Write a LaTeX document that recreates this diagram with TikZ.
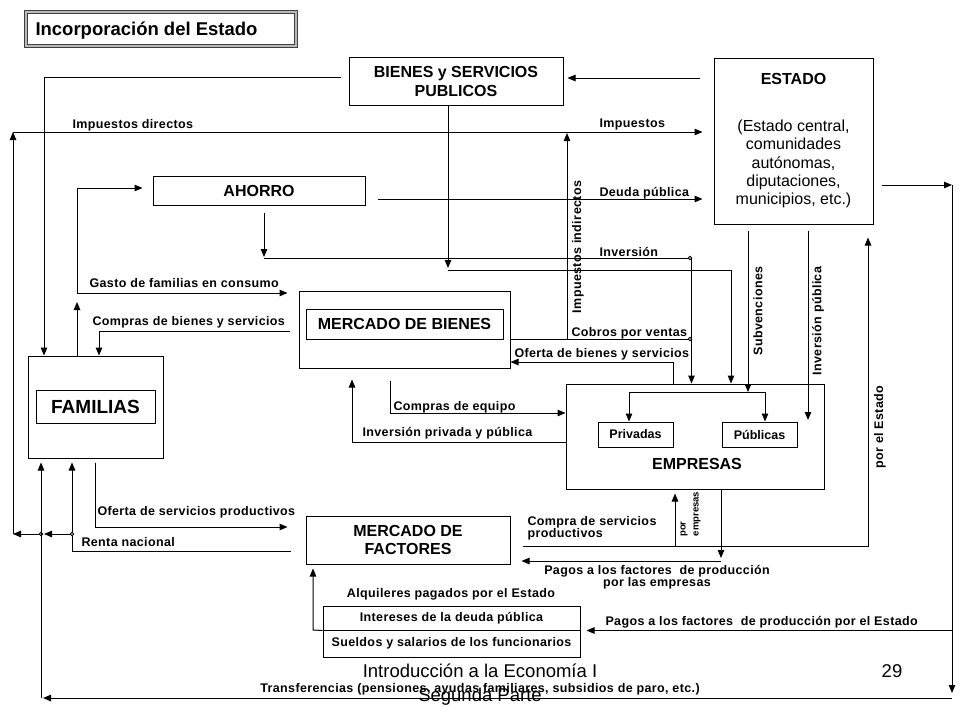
\documentclass[tikz,border=0pt]{standalone}
\usepackage{fontspec}
\setmainfont{Liberation Sans}
\newfontfamily\lblfont{Liberation Sans}[LetterSpace=3]
\usetikzlibrary{arrows.meta}
\begin{document}
\begin{tikzpicture}[x=1pt,y=-1pt,line width=1pt,
  arr/.style={-{Triangle[length=8pt,width=6.5pt]}},
  box/.style={draw,line width=1pt,inner sep=0pt,align=center,font=\fontsize{16}{19}\selectfont\bfseries},
  plain/.style={draw,line width=1pt,inner sep=0pt},
  lbl/.style={inner sep=0pt,font=\lblfont\fontsize{12.5}{13}\selectfont\bfseries},
  smalllbl/.style={inner sep=0pt,font=\fontsize{9.5}{10}\selectfont\bfseries},
  dot/.style={circle,draw,fill=white,inner sep=0pt,minimum size=3.5pt,line width=0.8pt},
  foot/.style={inner sep=0pt,font=\fontsize{18.5}{20}\selectfont}]
\useasboundingbox[fill=white] (0,0) rectangle (960,720);

% ---------- title ----------
\node[draw=black!75,line width=0.9pt,double=gray!55,double distance=1.6pt,minimum width=270pt,minimum height=34pt,inner sep=0pt] (title) at (161,29) {};
\node[inner sep=0pt,anchor=base west,font=\fontsize{18.5}{20}\selectfont\bfseries] (titlet) at (35,35) {Incorporación del Estado};

% ---------- boxes ----------
\node[box,minimum width=214pt,minimum height=48pt] (bienes) at (456,81) {BIENES y SERVICIOS\\PUBLICOS};
\node[plain,minimum width=159pt,minimum height=166pt] (estado) at (793.5,141) {};
\node[inner sep=0pt,anchor=base,font=\fontsize{16}{19}\selectfont\bfseries] (estadot) at (793.5,84) {ESTADO};
\node[inner sep=0pt,align=center,font=\fontsize{16}{18.2}\selectfont] (estadob) at (793.5,164) {(Estado central,\\comunidades\\autónomas,\\diputaciones,\\municipios, etc.)};
\node[box,minimum width=212pt,minimum height=29pt] (ahorro) at (259,190.5) {AHORRO};
\node[plain,minimum width=211pt,minimum height=77pt] (mbienes) at (404.5,329.5) {};
\node[box,minimum width=197pt,minimum height=30pt] (mbienesin) at (404.5,324) {MERCADO DE BIENES};
\node[plain,minimum width=135pt,minimum height=102pt] (familias) at (95.5,407) {};
\node[box,minimum width=119pt,minimum height=33pt,font=\fontsize{19}{22}\selectfont\bfseries] (familiasin) at (95.5,406.5) {FAMILIAS};
\node[plain,minimum width=258pt,minimum height=105pt] (empresas) at (695,436.5) {};
\node[inner sep=0pt,font=\fontsize{16}{19}\selectfont\bfseries] (empresast) at (697,464) {EMPRESAS};
\node[box,minimum width=75pt,minimum height=25pt,font=\fontsize{12.5}{14}\selectfont\bfseries] (privadas) at (635.5,434.5) {Privadas};
\node[box,minimum width=75pt,minimum height=25pt,font=\fontsize{12.5}{14}\selectfont\bfseries] (publicas) at (759.5,434.5) {Públicas};
\node[box,minimum width=204pt,minimum height=48pt,font=\fontsize{16}{18}\selectfont\bfseries] (mfactores) at (408,540) {MERCADO DE\\FACTORES};
\node[plain,lbl,minimum width=257pt,minimum height=24pt] (gobA) at (451.5,618) {Intereses de la deuda pública};
\node[plain,lbl,minimum width=257pt,minimum height=27pt] (gobB) at (451.5,643.5) {Sueldos y salarios de los funcionarios};

% ---------- coordinates ----------
\coordinate (c44) at (44,77);
\coordinate (jL) at (13,534);
\coordinate (cImp) at (13,132);
\coordinate (cII) at (567,339);
\coordinate (cIIt) at (567,133);
\coordinate (jG) at (77,293);
\coordinate (cCS) at (868,546);
\coordinate (cR) at (952,185);
\coordinate (cRB) at (952,698);
\coordinate (cL41) at (41,698);

% ---------- connectors ----------
\draw[arr,shorten <=14pt,shorten >=4pt] (estado.west |- 0,78) -- (bienes.east |- 0,78);
\draw[arr,shorten <=8pt] (bienes.west |- c44) -- (c44) -- (familias.north -| c44);
\draw[arr] (jL) -- (cImp);
\draw[arr,shorten >=11pt] (cImp) -- (estado.west |- cImp);
\draw[arr] (cII) -- (cIIt);
\draw[arr] (bienes.south -| 448,0) -- (448,268);
\draw[arr] (448,270) -- (731,270) -- (empresas.north -| 731,0);
\draw[arr,shorten >=10pt] (jG) -- (77,188) -- (ahorro.west |- 0,188);
\draw[arr] (familias.north -| jG) -- (77,302);
\draw[arr,shorten >=11pt] (jG) -- (mbienes.west |- jG);
\draw[arr,shorten <=12pt,shorten >=11pt] (ahorro.east |- 0,199) -- (estado.west |- 0,199);
\draw[arr,shorten <=7pt] (ahorro.south -| 264,0) -- (264,257);
\draw (264,258) -- (689,258);
\draw[arr] (691.5,258) -- (empresas.north -| 691.5,0);
\draw (mbienes.east |- cII) -- (689,339);
\node[dot] (d1) at (690,258) {};
\node[dot] (d2) at (690,339) {};
\draw[arr] (empresas.north -| 673,0) -- (673,362) -- (mbienes.east |- 0,362);
\draw[arr,shorten <=9pt] (mbienes.west |- 0,331) -- (99,331) -- (familias.north -| 99,0);
\draw[arr,shorten <=12pt] (mbienes.south -| 390,0) -- (390,413) -- (empresas.west |- 0,413);
\draw[arr,shorten >=11pt] (empresas.west |- 0,442) -- (352,442) -- (mbienes.south -| 352,0);
\draw[arr,shorten <=6pt] (estado.south -| 748,0) -- (748,392);
\draw[arr] (765,392) -- (publicas.north -| 765,0);
\draw[arr] (765,392) -- (629,392) -- (privadas.north -| 629,0);
\draw[arr,shorten <=6pt] (estado.south -| 808,0) -- (808,420);
\draw[arr,shorten <=12pt,shorten >=13pt] (mfactores.east |- cCS) -- (cCS) -- (estado.south -| cCS);
\draw[arr,shorten >=4pt] (675,546) -- (empresas.south -| 675,0);
\draw[arr] (empresas.south -| 721,0) -- (721,558);
\draw[arr,shorten >=11pt] (721,561) -- (mfactores.east |- 0,561);
\draw[arr,shorten <=4pt,shorten >=18pt] (familias.south -| 95,0) -- (95,527) -- (mfactores.west |- 0,527);
\draw[arr,shorten <=15pt,shorten >=4pt] (mfactores.west |- 0,551) -- (72,551) -- (familias.south -| 72,0);
\draw[arr] (72,534) -- (44,534);
\draw[arr] (41,534) -- (jL);
\node[dot] (d3) at (72,534) {};
\node[dot] (d4) at (41,534) {};
\draw[arr,shorten <=8pt] (estado.east |- cR) -- (cR);
\draw[arr,shorten >=5pt] (cR) -- (cRB);
\draw[arr,shorten >=2pt] (cRB) -- (cL41);
\draw[arr,shorten >=4pt] (cL41) -- (familias.south -| cL41);
\draw[arr,shorten >=6pt] (cRB |- gobA.south east) -- (gobA.south east);
\draw[arr,shorten >=4pt] (gobA.south west) -- (313,630) -- (mfactores.south -| 313,0);

% ---------- labels ----------
\node[lbl,anchor=base west] (lImpDir) at (72,128) {Impuestos directos};
\node[lbl,anchor=base west] (lImp) at (599,127) {Impuestos};
\node[lbl,anchor=base west] (lDeuda) at (599,196) {Deuda pública};
\node[lbl,anchor=base west] (lInv) at (599,256) {Inversión};
\node[lbl,anchor=base west] (lCobros) at (571,336) {Cobros por ventas};
\node[lbl,anchor=base west] (lOferta) at (514,357) {Oferta de bienes y servicios};
\node[lbl,anchor=base west] (lGasto) at (89,287) {Gasto de familias en consumo};
\node[lbl,anchor=base west] (lCompras) at (92,325) {Compras de bienes y servicios};
\node[lbl,anchor=base west] (lEquipo) at (393,410) {Compras de equipo};
\node[lbl,anchor=base west] (lInvPP) at (362,436) {Inversión privada y pública};
\node[lbl,anchor=base west] (lOfServ) at (97,515) {Oferta de servicios productivos};
\node[lbl,anchor=base west] (lRenta) at (81,546) {Renta nacional};
\node[lbl,anchor=base west] (lCS1) at (527,525) {Compra de servicios};
\node[lbl,anchor=base west] (lCS2) at (527,537) {productivos};
\node[lbl,anchor=base] (lPE1) at (657,574) {Pagos a los factores \ de producción};
\node[lbl,anchor=base] (lPE2) at (657,586) {por las empresas};
\node[lbl,anchor=base] (lAlq) at (451,597) {Alquileres pagados por el Estado};
\node[lbl,anchor=base west] (lPEst) at (605,625) {Pagos a los factores \ de producción por el Estado};
\node[lbl,anchor=base] (lTransf) at (480,692) {Transferencias (pensiones, ayudas familiares, subsidios de paro, etc.)};
\node[lbl,rotate=90] (lII) at (578,247) {Impuestos indirectos};
\node[lbl,rotate=90] (lSub) at (758,311) {Subvenciones};
\node[lbl,rotate=90] (lInvP) at (818,321) {Inversión pública};
\node[lbl,rotate=90] (lEst) at (880,427) {por el Estado};
\node[smalllbl,rotate=90] (lpor) at (684,529) {por};
\node[smalllbl,rotate=90] (lemp) at (697,514) {empresas};

% ---------- footer ----------
\node[foot,anchor=base] (foot1) at (480,677) {Introducción a la Economía I};
\node[foot,anchor=base] (foot2) at (480,701) {Segunda Parte};
\node[foot,anchor=base] (pagenum) at (892,677) {29};
\end{tikzpicture}
\end{document}
